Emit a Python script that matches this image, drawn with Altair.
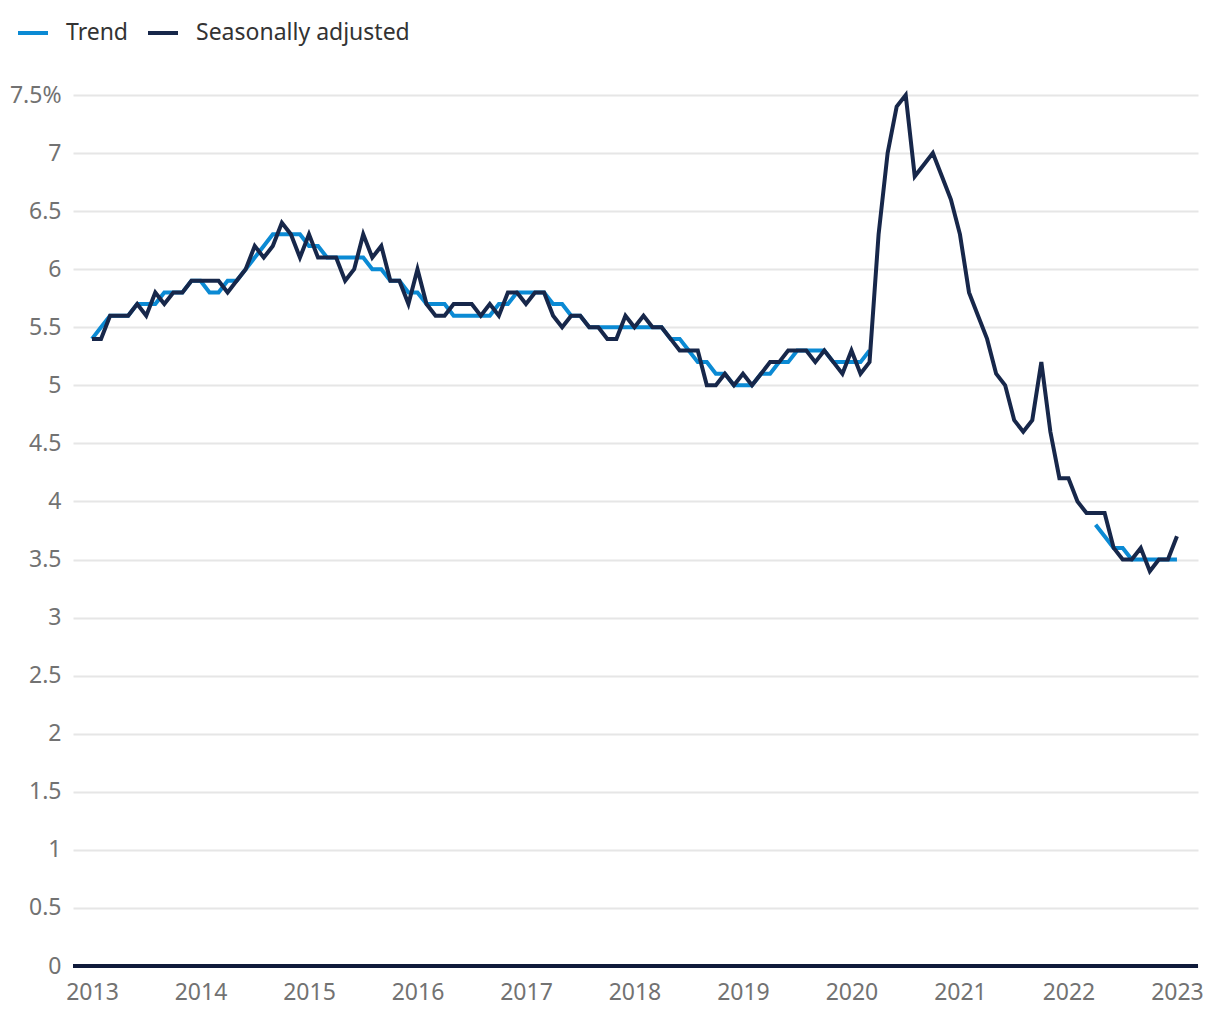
import altair as alt
import pandas as pd

# Monthly, Jan 2013 .. Jan 2023 (121 months)
start_year = 2013
sa_values = [
    5.4, 5.4, 5.6, 5.6, 5.6, 5.7, 5.6, 5.8, 5.7, 5.8, 5.8, 5.9,   # 2013
    5.9, 5.9, 5.9, 5.8, 5.9, 6.0, 6.2, 6.1, 6.2, 6.4, 6.3, 6.1,   # 2014
    6.3, 6.1, 6.1, 6.1, 5.9, 6.0, 6.3, 6.1, 6.2, 5.9, 5.9, 5.7,   # 2015
    6.0, 5.7, 5.6, 5.6, 5.7, 5.7, 5.7, 5.6, 5.7, 5.6, 5.8, 5.8,   # 2016
    5.7, 5.8, 5.8, 5.6, 5.5, 5.6, 5.6, 5.5, 5.5, 5.4, 5.4, 5.6,   # 2017
    5.5, 5.6, 5.5, 5.5, 5.4, 5.3, 5.3, 5.3, 5.0, 5.0, 5.1, 5.0,   # 2018
    5.1, 5.0, 5.1, 5.2, 5.2, 5.3, 5.3, 5.3, 5.2, 5.3, 5.2, 5.1,   # 2019
    5.3, 5.1, 5.2, 6.3, 7.0, 7.4, 7.5, 6.8, 6.9, 7.0, 6.8, 6.6,   # 2020
    6.3, 5.8, 5.6, 5.4, 5.1, 5.0, 4.7, 4.6, 4.7, 5.2, 4.6, 4.2,   # 2021
    4.2, 4.0, 3.9, 3.9, 3.9, 3.6, 3.5, 3.5, 3.6, 3.4, 3.5, 3.5,   # 2022
    3.7,                                                          # 2023
]
trend_values = [
    5.4, 5.5, 5.6, 5.6, 5.6, 5.7, 5.7, 5.7, 5.8, 5.8, 5.8, 5.9,   # 2013
    5.9, 5.8, 5.8, 5.9, 5.9, 6.0, 6.1, 6.2, 6.3, 6.3, 6.3, 6.3,   # 2014
    6.2, 6.2, 6.1, 6.1, 6.1, 6.1, 6.1, 6.0, 6.0, 5.9, 5.9, 5.8,   # 2015
    5.8, 5.7, 5.7, 5.7, 5.6, 5.6, 5.6, 5.6, 5.6, 5.7, 5.7, 5.8,   # 2016
    5.8, 5.8, 5.8, 5.7, 5.7, 5.6, 5.6, 5.5, 5.5, 5.5, 5.5, 5.5,   # 2017
    5.5, 5.5, 5.5, 5.5, 5.4, 5.4, 5.3, 5.2, 5.2, 5.1, 5.1, 5.0,   # 2018
    5.0, 5.0, 5.1, 5.1, 5.2, 5.2, 5.3, 5.3, 5.3, 5.3, 5.2, 5.2,   # 2019
    5.2, 5.2, 5.3, None, None, None, None, None, None, None, None, None,  # 2020
    None, None, None, None, None, None, None, None, None, None, None, None,  # 2021
    None, None, None, 3.8, 3.7, 3.6, 3.6, 3.5, 3.5, 3.5, 3.5, 3.5,  # 2022
    3.5,                                                          # 2023
]
series_names = ["Trend", "Seasonally adjusted"]
series_colors = ["#0b8ad4", "#17274a"]
year_ticks = list(range(2013, 2024))
y_ticks = [0, 0.5, 1, 1.5, 2, 2.5, 3, 3.5, 4, 4.5, 5, 5.5, 6, 6.5, 7, 7.5]

rows = []
for i, v in enumerate(sa_values):
    rows.append({"t": start_year + i / 12, "value": v, "series": "Seasonally adjusted", "seg": "sa"})
seg = 0
prev_none = True
for i, v in enumerate(trend_values):
    if v is None:
        prev_none = True
        continue
    if prev_none:
        seg += 1
        prev_none = False
    rows.append({"t": start_year + i / 12, "value": v, "series": "Trend", "seg": f"trend{seg}"})
df = pd.DataFrame(rows)

FONT = "Noto Sans"

x = alt.X(
    "t:Q",
    scale=alt.Scale(domain=[2012.825, 2023.194], nice=False, zero=False),
    axis=alt.Axis(
        values=year_ticks, format="d", title=None, grid=False, ticks=False,
        domain=False, labelPadding=15, labelFontSize=23, labelColor="#727272",
        labelFont=FONT,
    ),
)
y = alt.Y(
    "value:Q",
    scale=alt.Scale(domain=[0, 7.5], nice=False),
    axis=alt.Axis(
        values=y_ticks, title=None, ticks=False, domain=False,
        labelExpr="datum.value == 7.5 ? '7.5%' : format(datum.value, '~g')",
        labelPadding=12, labelFontSize=23, labelColor="#727272", labelFont=FONT,
        gridColor="#e6e6e6", gridWidth=2,
    ),
)
color = alt.Color(
    "series:N",
    scale=alt.Scale(domain=series_names, range=series_colors),
    legend=alt.Legend(
        title=None, orient="none", legendX=-57, legendY=-79, direction="horizontal",
        symbolType="stroke", symbolSize=900, symbolStrokeWidth=4,
        labelFontSize=23, labelFont=FONT, labelColor="#333333", labelOffset=16,
        labelLimit=0, columnPadding=11, padding=0,
    ),
)

base = alt.Chart(df)
trend = base.transform_filter(alt.datum.series == "Trend").mark_line(
    strokeWidth=4, strokeJoin="miter"
).encode(x=x, y=y, color=color, detail="seg:N")
sa = base.transform_filter(alt.datum.series == "Seasonally adjusted").mark_line(
    strokeWidth=4, strokeJoin="miter"
).encode(x=x, y=y, color=color, detail="seg:N")
zero = alt.Chart(pd.DataFrame({"z": [0]})).mark_rule(color="#0f1a3a", strokeWidth=4).encode(
    y=alt.Y("z:Q", scale=alt.Scale(domain=[0, 7.5], nice=False))
)

chart = alt.layer(trend, sa, zero).properties(
    width=1125, height=871,
    autosize=alt.AutoSizeParams(type="none"),
    padding={"left": 65, "top": 87, "right": 14, "bottom": 60},
).configure(font=FONT).configure_view(stroke=None)

chart.save("out.html", embed_options={"renderer": "svg", "actions": False})
